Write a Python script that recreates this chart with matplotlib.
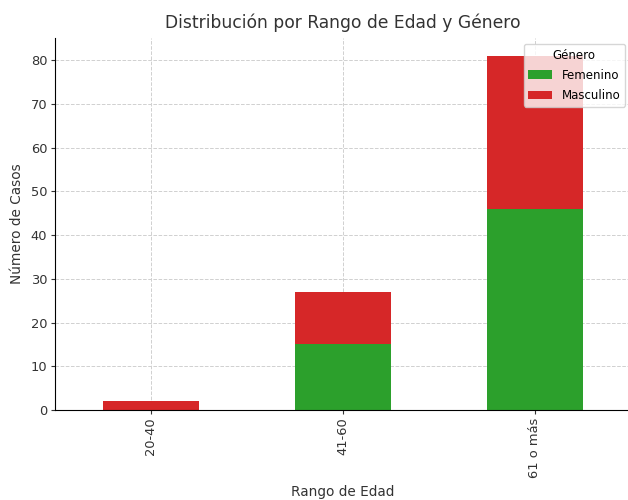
import pandas as pd
import matplotlib.pyplot as plt

# Data
rangos = ['20-40', '41-60', '61 o más']
femenino = [0, 15, 46]
masculino = [2, 12, 35]

df = pd.DataFrame({'Femenino': femenino, 'Masculino': masculino}, index=rangos)

fig = plt.figure(figsize=(6.28, 5.0), dpi=100)
ax = fig.add_axes([0.0876, 0.18, 0.917, 0.744])

df.plot(kind='bar', stacked=True, ax=ax, color=['#2ca02c', '#d62728'], width=0.5)

ax.set_title('Distribución por Rango de Edad y Género', fontsize=12.3, color='#333333', pad=7)
ax.set_xlabel('Rango de Edad', fontsize=9.8, color='#333333', labelpad=5)
ax.set_ylabel('Número de Casos', fontsize=9.8, color='#333333', labelpad=5)
ax.tick_params(axis='both', labelsize=9.4, colors='#333333', length=3, pad=2.5)
ax.set_xticks(range(len(rangos)))
ax.set_xticklabels(rangos, rotation=90)

ax.grid(True, linestyle='--', color='#d0d0d0', linewidth=0.7)
ax.set_axisbelow(True)
ax.spines['top'].set_visible(False)
ax.spines['right'].set_visible(False)

ax.legend(title='Género', loc='upper right', fontsize=8.5, title_fontsize=8.5,
          labelspacing=0.6)

fig.savefig('out.png', dpi=100)
